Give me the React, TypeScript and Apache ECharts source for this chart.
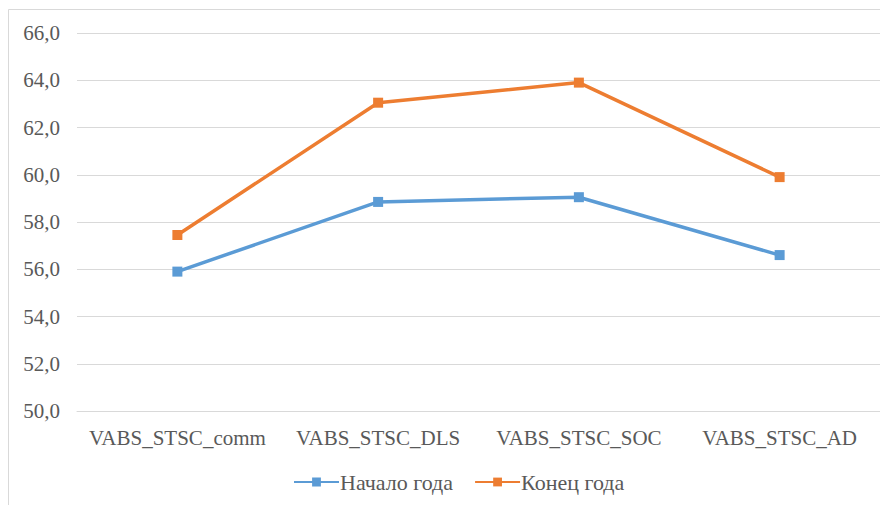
import React, { useEffect, useRef } from "react";
import * as echarts from "echarts";

const categories = ["VABS_STSC_comm", "VABS_STSC_DLS", "VABS_STSC_SOC", "VABS_STSC_AD"];
const startOfYear = [55.9, 58.85, 59.05, 56.6];
const endOfYear = [57.45, 63.05, 63.9, 59.9];
const seriesNames = ["Начало года", "Конец года"];

const FONT = "Times New Roman";
const TEXT = "#595959";
const GRID = "#D9D9D9";

export default function App() {
  const ref = useRef<HTMLDivElement>(null);
  useEffect(() => {
    if (!ref.current) return;
    const chart = echarts.init(ref.current, undefined, { renderer: "svg" });
    chart.setOption({
      animation: false,
      backgroundColor: "#ffffff",
      textStyle: { fontFamily: FONT },
      grid: { left: 77, right: 0, top: 33, bottom: 94, containLabel: false },
      graphic: [
        {
          type: "polyline",
          shape: { points: [[8.5, 600], [8.5, 9.5], [900, 9.5]] },
          style: { stroke: GRID, lineWidth: 1, fill: null },
          silent: true,
        },
      ],
      legend: {
        left: 288,
        top: 466,
        itemWidth: 45,
        itemHeight: 11,
        itemGap: 21,
        textStyle: { fontFamily: FONT, fontSize: 22, color: TEXT, padding: [0, 0, 0, -4] },
        data: seriesNames,
      },
      xAxis: {
        type: "category",
        data: categories,
        boundaryGap: true,
        axisLine: { show: true, lineStyle: { color: GRID, width: 1 } },
        axisTick: { show: false },
        axisLabel: { fontFamily: FONT, fontSize: 21, color: TEXT, margin: 16, interval: 0 },
      },
      yAxis: {
        type: "value",
        min: 50,
        max: 66,
        interval: 2,
        axisLine: { show: false },
        axisTick: { show: false },
        splitLine: { lineStyle: { color: GRID, width: 1 } },
        axisLabel: {
          fontFamily: FONT,
          fontSize: 21,
          color: TEXT,
          margin: 17,
          formatter: (v: number) => v.toFixed(1).replace(".", ","),
        },
      },
      series: [
        {
          name: seriesNames[0],
          type: "line",
          data: startOfYear,
          symbol: "rect",
          symbolSize: 10,
          color: "#5B9BD5",
          lineStyle: { width: 3.5, color: "#5B9BD5" },
          itemStyle: { color: "#5B9BD5" },
        },
        {
          name: seriesNames[1],
          type: "line",
          data: endOfYear,
          symbol: "rect",
          symbolSize: 10,
          color: "#ED7D31",
          lineStyle: { width: 3.5, color: "#ED7D31" },
          itemStyle: { color: "#ED7D31" },
        },
      ],
    });
    return () => chart.dispose();
  }, []);
  return (
    <div
      ref={ref}
      style={{ position: "fixed", left: 0, top: 0, width: 880, height: 505 }}
    />
  );
}
